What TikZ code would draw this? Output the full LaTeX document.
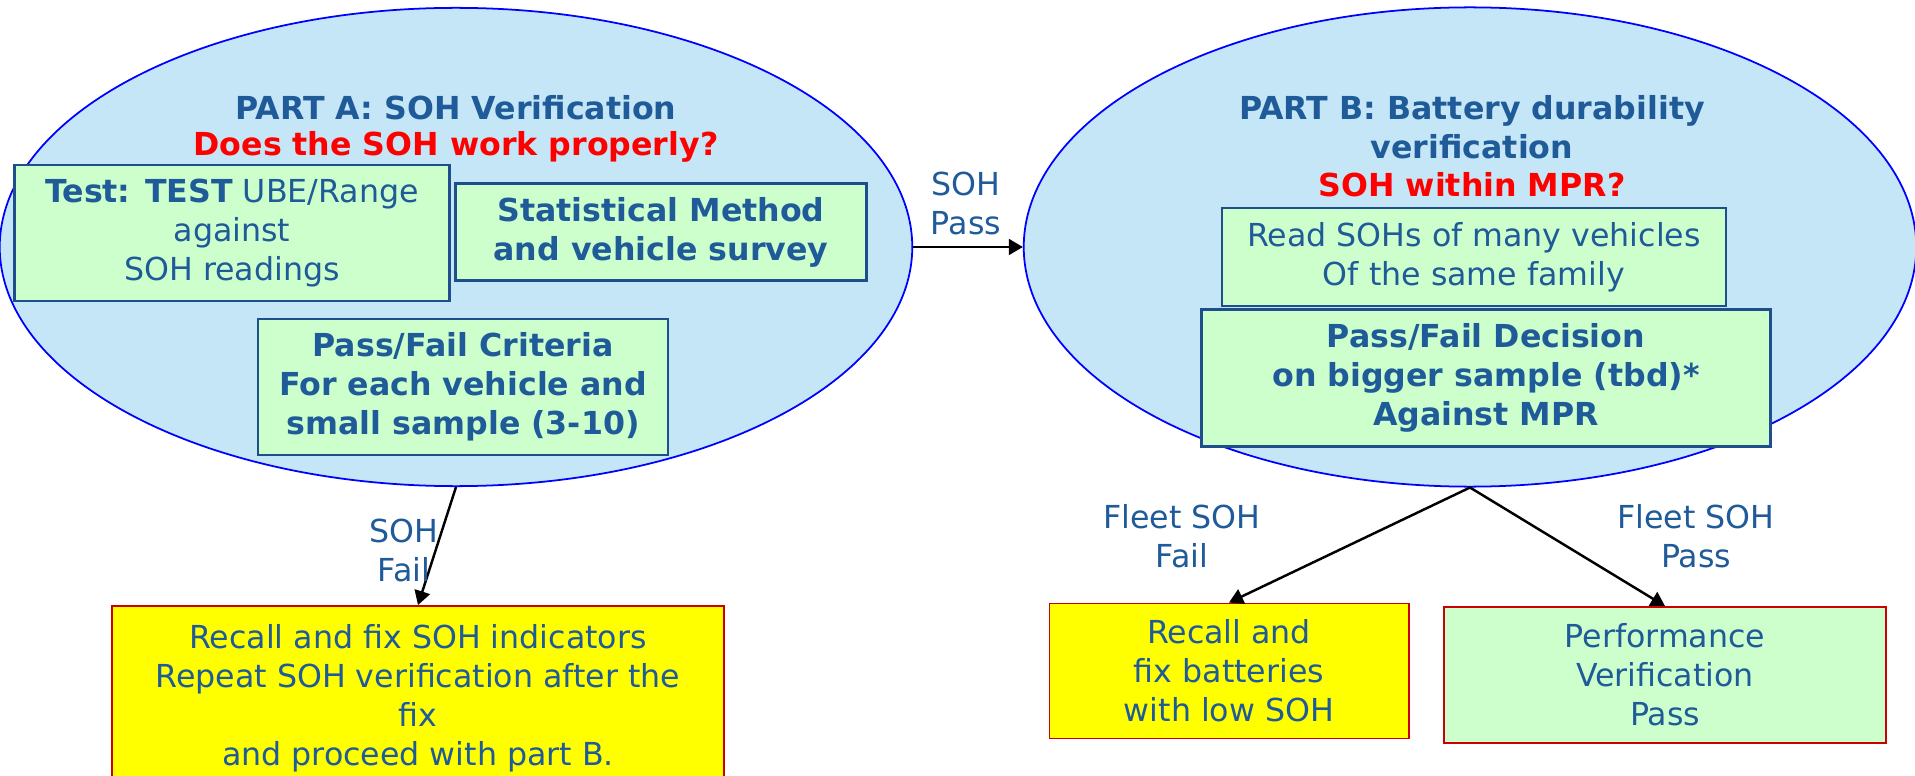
\documentclass[tikz,border=0pt]{standalone}
\usepackage{fontspec}
\setmainfont{DejaVu Sans}
\usetikzlibrary{positioning,arrows.meta,shapes.geometric}
\definecolor{ovalfill}{HTML}{C5E6F6}
\definecolor{ovaldraw}{HTML}{0000FF}
\definecolor{boxfill}{HTML}{CCFFCC}
\definecolor{boxdraw}{HTML}{1F4E8C}
\definecolor{textblue}{HTML}{1F5A99}
\definecolor{alertred}{HTML}{FF0000}
\definecolor{failfill}{HTML}{FFFF00}
\definecolor{faildraw}{HTML}{CC0000}

\begin{document}
\begin{tikzpicture}[
    x=0.01cm, y=-0.01cm,
    >={Triangle[length=4pt,width=4.5pt]},
    every node/.style={font=\fontsize{9}{11.1}\selectfont, text=textblue, align=center},
    oval/.style={
        ellipse,
        fill=ovalfill,
        draw=ovaldraw,
        line width=0.5pt,
        inner sep=0pt,
    },
    greenbox/.style={
        rectangle,
        fill=boxfill,
        draw=boxdraw,
        line width=0.7pt,
        inner sep=0pt,
    },
    failbox/.style={
        rectangle,
        fill=failfill,
        draw=faildraw,
        line width=0.5pt,
        inner sep=0pt,
    },
    passbox/.style={
        rectangle,
        fill=boxfill,
        draw=faildraw,
        line width=0.5pt,
        inner sep=0pt,
    },
    arrow/.style={->,line width=0.7pt,color=black},
    title/.style={font=\fontsize{9}{11.1}\selectfont\bfseries},
    question/.style={font=\fontsize{9}{11.1}\selectfont\bfseries,text=alertred},
]

\useasboundingbox (0,0) rectangle (1915,776);

% Part A
\node[oval,minimum width=9.12cm,minimum height=4.78cm] (partA) at (456,247) {};
\node[title] (titleA) at (456,108) {PART A: SOH Verification};
\node[question] (askA) at (456,147) {Does the SOH work properly?};

\node[greenbox,minimum width=4.35cm,minimum height=1.36cm] (test) at (232,233)
    {\textbf{Test: TEST} UBE/Range\\against\\SOH readings};
\node[greenbox,minimum width=4.11cm,minimum height=0.97cm,font=\fontsize{9}{11.1}\selectfont\bfseries] (stat) at (661,232)
    {Statistical Method\\and vehicle survey};
\node[greenbox,minimum width=4.10cm,minimum height=1.36cm,font=\fontsize{9}{11.1}\selectfont\bfseries] (criteria) at (463,387)
    {Pass/Fail Criteria\\For each vehicle and\\small sample (3-10)};

% Part B
\node[oval,minimum width=8.92cm,minimum height=4.79cm] (partB) at (1470,247) {};
\node[title] (titleB) at (1472,127) {PART B: Battery durability\\verification};
\node[question] (askB) at (1472,185) {SOH within MPR?};

\node[greenbox,minimum width=5.04cm,minimum height=0.98cm] (read) at (1474,257)
    {Read SOHs of many vehicles\\Of the same family};
\node[greenbox,minimum width=5.69cm,minimum height=1.37cm,font=\fontsize{9}{11.1}\selectfont\bfseries] (decision) at (1486,378)
    {Pass/Fail Decision\\on bigger sample (tbd)*\\Against MPR};

\draw[arrow] (partA.east) -- (partB.west);
\node (sohpass) at (966,203) {SOH\\Pass};

% Outcomes
\node[failbox,minimum width=6.11cm,minimum height=1.85cm,anchor=north] (recallA) at (418,605)
    {Recall and fix SOH indicators\\Repeat SOH verification after the\\fix\\and proceed with part B.};
\draw[arrow] (partA.south) -- (recallA.north);
\node (sohfail) at (404,550) {SOH\\Fail};

\node[failbox,minimum width=3.59cm,minimum height=1.35cm] (recallB) at (1229,671)
    {Recall and\\fix batteries\\with low SOH};
\node[passbox,minimum width=4.42cm,minimum height=1.36cm] (perf) at (1665,675)
    {Performance\\Verification\\Pass};
\draw[arrow] (partB.south) -- (recallB.north);
\draw[arrow] (partB.south) -- (perf.north);
\node (fleetfail) at (1182,536) {Fleet SOH\\Fail};
\node (fleetpass) at (1696,536) {Fleet SOH\\Pass};

\end{tikzpicture}
\end{document}
